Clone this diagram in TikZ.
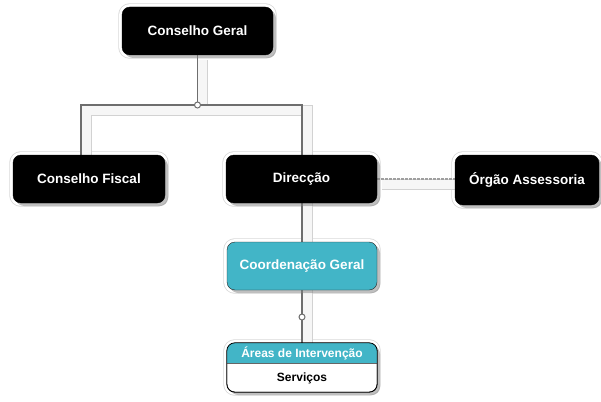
\documentclass[tikz,border=0pt]{standalone}
\usepackage{fontspec}
\setmainfont{Liberation Sans}
\usetikzlibrary{shadows}
\definecolor{tealbox}{RGB}{66,181,199}
\definecolor{linegray}{RGB}{110,110,110}
\pgfdeclarelayer{back}
\pgfdeclarelayer{mid}
\pgfsetlayers{back,mid,main}
\newcommand\connband[2][]{%
  \draw[transform canvas={xshift=5pt,yshift=-5pt}, draw=gray!35, line width=11pt] #2;
  \draw[transform canvas={xshift=5pt,yshift=-5pt}, draw=gray!7, line width=9pt] #2;
  \draw[draw=linegray, line width=1.6pt, #1] #2;}
\begin{document}
\begin{tikzpicture}[x=1pt,y=-1pt,
  box/.style={drop shadow={shadow xshift=3pt,shadow yshift=-3pt,opacity=0.5},
    fill=black, draw=black, rounded corners=8pt, text=white,
    font=\bfseries\fontsize{13.5}{15}\selectfont,
    minimum width=151pt, minimum height=48pt, inner sep=0pt},
  tealstyle/.style={box, fill=tealbox, draw=black!85},
  small/.style={font=\bfseries\fontsize{12}{13}\selectfont, inner sep=0pt},
  junction/.style={circle, draw=linegray, fill=white, line width=1pt, minimum size=6pt, inner sep=0pt}
]
\useasboundingbox (0,0) rectangle (601,401);

% boxes
\node[box] (cg) at (197.5,31) {Conselho Geral};
\node[box, minimum width=152pt] (cf) at (89,179) {Conselho Fiscal};
\node[box] (dir) at (301.5,179) {Direcção};
\node[box, minimum width=144pt, minimum height=50pt] (org) at (527,180) {Órgão Assessoria};
\node[tealstyle, minimum width=150pt] (coord) at (302,266) {Coordenação Geral};
\node[box, fill=white, minimum width=150pt, minimum height=49pt] (areas) at (302,367.5) {};
\begin{scope}
  \clip[rounded corners=8pt] (areas.south west) rectangle (areas.north east);
  \fill[tealbox] (areas.north west) rectangle ([yshift=-20pt]areas.north east);
  \draw[black!60, line width=0.6pt] ([yshift=-20pt]areas.north west) -- ([yshift=-20pt]areas.north east);
\end{scope}
\draw[black, rounded corners=8pt, line width=0.8pt] (areas.south west) rectangle (areas.north east);
\node[small, text=white] (areasT) at (302,353.5) {Áreas de Intervenção};
\node[small, text=black] (serv) at (302,378.5) {Serviços};

% halos
\begin{pgfonlayer}{back}
  \foreach \n in {cg,cf,dir,org,coord,areas}{
    \draw[gray!30, line width=7pt, rounded corners=8pt] (\n.south west) rectangle (\n.north east);
    \draw[white, line width=5.4pt, rounded corners=8pt] (\n.south west) rectangle (\n.north east);
  }
\end{pgfonlayer}

% connectors
\coordinate (j1) at (197.5,105);
\coordinate (jf) at (81,105);
\coordinate (jd) at (302,105);
\coordinate (j2) at (302,317);
\begin{pgfonlayer}{mid}
  \connband{(cg) -- (j1)}
  \connband{(jf |- cf) -- (jf) -- (jd) -- (jd |- dir)}
  \connband{(jd |- dir) -- (jd |- coord)}
  \connband{(j2 |- coord) -- (j2 |- areas)}
  \connband[draw=gray!75, dash pattern=on 2.5pt off 1.5pt, line width=1.4pt]{(dir) -- (org |- dir)}
  \node[junction] (jc1) at (j1) {};
  \node[junction] (jc2) at (j2) {};
\end{pgfonlayer}
\end{tikzpicture}
\end{document}
